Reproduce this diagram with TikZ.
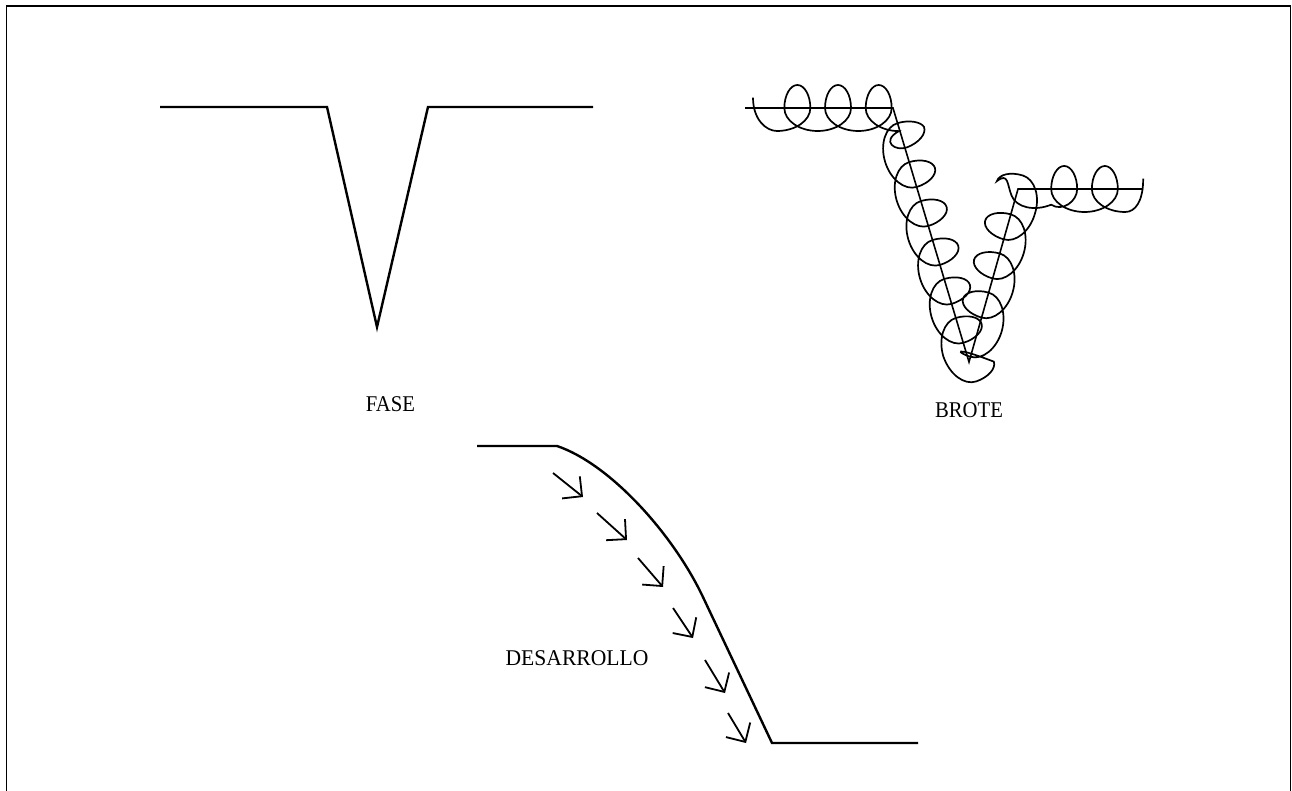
\documentclass[tikz,border=0pt]{standalone}
\usepackage{fontspec}
\setmainfont{Liberation Serif}
\usetikzlibrary{decorations, arrows.meta, calc}

% Loop geometry of the coil: period and half period, loop width,
% loop half-height, and the distance from a bottom point to the right
% side of the next loop.
\def\cL{40.67pt}
\def\cLh{20.335pt}
\def\cW{26pt}
\def\cB{23pt}
\def\cH{33.335pt}

% A looped coil, built from half periods so that it follows bends closely:
% "up" climbs from the bottom of a wide arc over the top of a tall loop,
% "down" returns along the loop's left side to the bottom of the next arc.
\pgfdeclaredecoration{curl}{start}{
  \state{start}[width=0pt, next state=up]{
    \pgfpathmoveto{\pgfpoint{-24pt}{0.45*\cB}}
    \pgfpathcurveto{\pgfpoint{-24pt}{-0.5*\cB}}{\pgfpoint{-11pt}{-\cB}}{\pgfpoint{0pt}{-\cB}}
  }
  \state{up}[width=\cLh, next state=down]{
    \pgfpathcurveto{\pgfpoint{0.55*\cH}{-\cB}}{\pgfpoint{\cH}{-0.55*\cB}}{\pgfpoint{\cH}{0pt}}
    \pgfpathcurveto{\pgfpoint{\cH}{0.55*\cB}}{\pgfpoint{\cLh+0.275*\cW}{\cB}}{\pgfpoint{\cLh}{\cB}}
  }
  \state{down}[width=\cLh, next state=up]{
    \pgfpathcurveto{\pgfpoint{-0.275*\cW}{\cB}}{\pgfpoint{-0.5*\cW}{0.55*\cB}}{\pgfpoint{-0.5*\cW}{0pt}}
    \pgfpathcurveto{\pgfpoint{-0.5*\cW}{-0.55*\cB}}{\pgfpoint{\cLh-0.55*\cH}{-\cB}}{\pgfpoint{\cLh}{-\cB}}
  }
  \state{final}{
    \pgfpathcurveto{\pgfpoint{10pt}{-\cB}}{\pgfpoint{18pt}{-0.55*\cB}}{\pgfpoint{18pt}{0.45*\cB}}
  }
}

\begin{document}
\begin{tikzpicture}[x=1pt, y=-1pt, line join=miter,
  profile/.style={line width=2.4pt, black},
  axisline/.style={line width=1.6pt, black},
  spring/.style={line width=1.7pt, decorate, decoration={curl}},
  flow/.style={line width=1.8pt, -{Straight Barb[angle=90:20pt]}},
  tag/.style={font=\fontsize{22.5}{26}\selectfont, inner sep=0pt}]
\useasboundingbox (0,0) rectangle (1292,791);

% outer frame
\begin{scope}
  \clip (0,0) rectangle (1292,791);
  \draw[line width=1.8pt] (6.5,800) -- (6.5,5.8) -- (1290.5,5.8) -- (1290.5,800);
\end{scope}

% --- FASE: sharp V notch ---
\coordinate (f1) at (160,107);
\coordinate (f2) at (327,107);
\coordinate (f3) at (377,327);
\coordinate (f4) at (428,107);
\coordinate (f5) at (593,107);
\draw[profile] (f1) -- (f2) -- (f3) -- (f4) -- (f5);
\node[tag] (fase) at (390.5,404) {\scalebox{0.92}[1]{FASE}};

% --- BROTE: V notch with a coil wound along it ---
\coordinate (b1) at (745,108);
\coordinate (b2) at (893,108);
\coordinate (b3) at (969,362);
\coordinate (b4) at (1018,189);
\coordinate (b5) at (1143,189);
\coordinate (c1) at (777,108);
\coordinate (c5) at (1134,189);
\draw[axisline] (b1) -- (b2) -- (b3) -- (b4) -- (b5);
% the coil follows the notch with its corners eased
\draw[spring] (c1) -- ($(b2)!18pt!(c1)$) .. controls (b2) .. ($(b2)!18pt!(b3)$)
  -- ($(b3)!25pt!(b2)$) .. controls (b3) .. ($(b3)!25pt!(b4)$)
  -- ($(b4)!30pt!(b3)$) .. controls (b4) .. ($(b4)!30pt!(c5)$) -- (c5);
\node[tag] (brote) at (969,410.5) {\scalebox{0.92}[1]{BROTE}};

% --- DESARROLLO: rounded slope with flow arrows ---
\coordinate (d1) at (477,446);
\coordinate (d2) at (557,446);
\coordinate (d3) at (702,595);
\coordinate (d4) at (772,743);
\coordinate (d5) at (918,743);
\draw[profile] (d1) -- (d2) .. controls (610,464) and (672,533) .. (d3) -- (d4) -- (d5);

\coordinate (t1) at (553,473); \coordinate (h1) at (583,497);
\coordinate (t2) at (597,513); \coordinate (h2) at (627,540);
\coordinate (t3) at (638,558); \coordinate (h3) at (663,587);
\coordinate (t4) at (673,608); \coordinate (h4) at (693,638);
\coordinate (t5) at (705,660); \coordinate (h5) at (725,693);
\coordinate (t6) at (728,713); \coordinate (h6) at (746,743);
\foreach \i in {1,...,6} \draw[flow] (t\i) -- (h\i);

\node[tag] (desarrollo) at (577,658) {\scalebox{0.96}[1]{DESARROLLO}};
\end{tikzpicture}
\end{document}
